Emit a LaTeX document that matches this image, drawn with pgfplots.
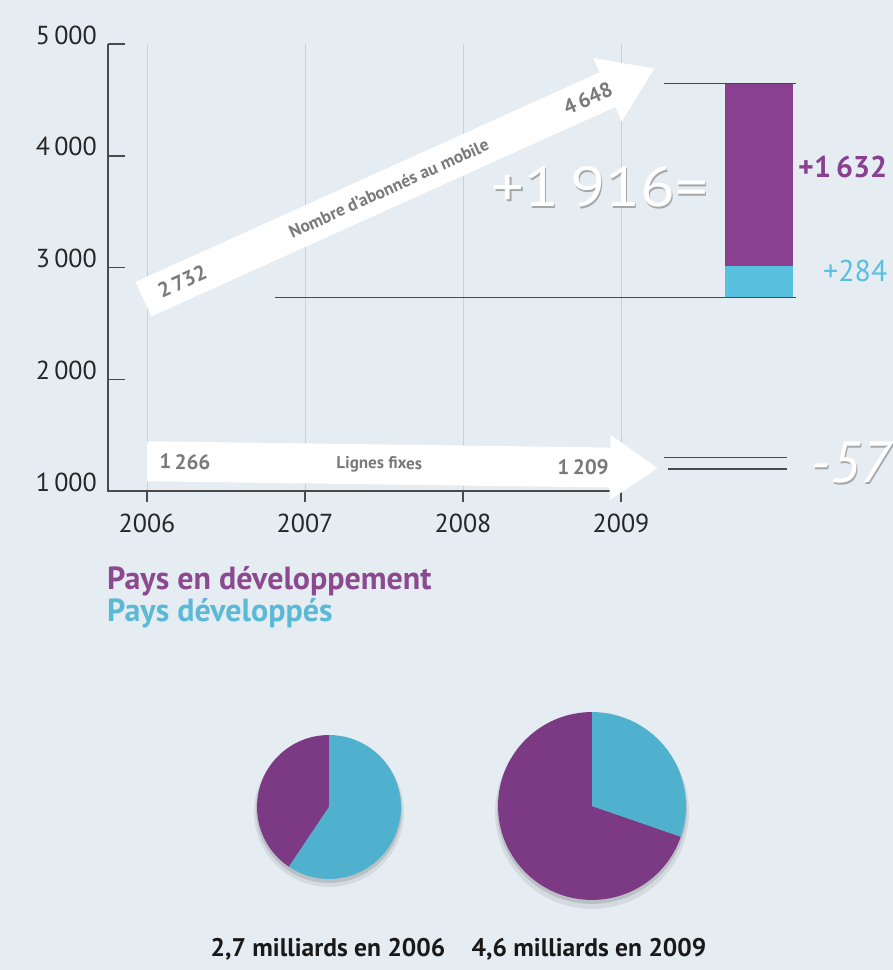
\documentclass[border=0pt]{standalone}
\usepackage{fontspec}
\setmainfont{PT Sans}
\usepackage{pgfplots}
\pgfplotsset{compat=1.18}
\usetikzlibrary{arrows.meta}

\definecolor{bg}{HTML}{E5ECF2}
\definecolor{purp}{HTML}{8A4090}
\definecolor{cyanb}{HTML}{58C0DF}
\definecolor{piepurp}{HTML}{7C3A84}
\definecolor{piecyan}{HTML}{4FB1CD}
\definecolor{legpurp}{HTML}{8B4A8F}
\definecolor{legcyan}{HTML}{5BB9D6}
\definecolor{axisgray}{HTML}{4A4A4A}
\definecolor{gridgray}{HTML}{CBD0D6}
\definecolor{lblgray}{HTML}{7A7A7A}
\definecolor{embossgray}{HTML}{A5A8AB}

% subscribers, millions
\def\mobA{2732}  \def\mobB{4648}
\def\fixA{1266}  \def\fixB{1209}
\def\incDev{1632} \def\incRich{284}
% pies: total (billions) and share of developing countries (%)
\def\totA{2.7} \def\devA{40.6}
\def\totB{4.6} \def\devB{69.7}

\pgfplotsset{chartgeom/.style={
  at={(108pt,479pt)}, anchor=south west,
  scale only axis, width=784.8pt, height=446.8pt,
  xmin=2005.753, xmax=2010.72, ymin=1000, ymax=5000}}

\begin{document}
\begin{tikzpicture}
\path[use as bounding box, fill=bg] (0,0) rectangle (893pt,970pt);

% stacked increase bar
\begin{axis}[chartgeom, hide axis, ybar stacked, bar width=68pt]
\addplot[fill=none, draw=none] coordinates {(2009.87,\mobA)};
\addplot[fill=cyanb, draw=none] coordinates {(2009.87,\incRich)};
\addplot[fill=purp, draw=none] coordinates {(2009.87,\incDev)};
\end{axis}

\begin{axis}[chartgeom,
  axis line style={draw=none},
  clip=false,
  xtick={2006,2007,2008,2009},
  xticklabels={2006,2007,2008,2009},
  ytick={1000,2000,3000,4000,5000},
  yticklabels={1\,000,2\,000,3\,000,4\,000,5\,000},
  xmajorgrids, major grid style={gridgray, line width=1pt},
  tick align=inside, major tick length=17pt,
  xtick style={draw=none},
  ytick style={axisgray, line width=1.5pt},
  ytick pos=left, xtick pos=bottom,
  xticklabel style={font=\fontsize{26}{26}\selectfont, text=black!85, inner sep=0pt, yshift=-23pt},
  yticklabel style={font=\fontsize{26}{26}\selectfont, text=black!85, inner sep=0pt, xshift=-11pt, yshift=9pt},
]
\draw[axisgray, line width=1.5pt] (axis cs:2005.753,5000) -- (axis cs:2005.753,1000) -- (axis cs:2009,1000);
\pgfplotsinvokeforeach{2006,2007,2008,2009}{
  \draw[axisgray, line width=1.2pt] (axis cs:#1,1000) -- ++(0pt,-11pt);
}

% mobile subscribers arrow
\addplot[draw=white, line width=38pt, -{Triangle[length=52pt, width=66pt]},
  shorten >=-37pt, shorten <=-4pt]
  coordinates {(2006,\mobA) (2009,\mobB)};
\node[rotate=24.3, text=lblgray, font=\bfseries\fontsize{21}{21}\selectfont] at (axis cs:2006.222,2873.8) {2\,732};
\node[rotate=24.3, text=lblgray, font=\bfseries\fontsize{17.5}{17.5}\selectfont] at (axis cs:2007.53,3709.2) {Nombre d’abonnés au mobile};
\node[rotate=24.3, text=lblgray, font=\bfseries\fontsize{21}{21}\selectfont] at (axis cs:2008.79,4513.9) {4\,648};

% fixed lines arrow
\addplot[draw=white, line width=40pt, -{Triangle[length=48pt, width=62pt]},
  shorten >=-37pt]
  coordinates {(2006,\fixA) (2009,\fixB)};
\node[rotate=-0.8, text=lblgray, font=\bfseries\fontsize{21}{21}\selectfont] at (axis cs:2006.24,1261.4) {1\,266};
\node[rotate=-0.8, text=lblgray, font=\bfseries\fontsize{17}{17}\selectfont] at (axis cs:2007.47,1238.1) {Lignes fixes};
\node[rotate=-0.8, text=lblgray, font=\bfseries\fontsize{21}{21}\selectfont] at (axis cs:2008.76,1213.6) {1\,209};

% reference lines
\draw[axisgray, line width=1.5pt] (axis cs:2009.27,\mobB) -- (axis cs:2010.11,\mobB);
\draw[axisgray, line width=1.5pt] (axis cs:2006.81,\mobA) -- (axis cs:2010.11,\mobA);
\draw[axisgray, line width=1.5pt] (axis cs:2009.27,1300) -- (axis cs:2010.05,1300);
\draw[axisgray, line width=1.5pt] (axis cs:2009.30,1195) -- (axis cs:2010.05,1195);
\end{axis}

% pies
\pgfmathsetmacro{\rA}{43.8*sqrt(\totA)}
\pgfmathsetmacro{\rB}{43.8*sqrt(\totB)}
\pgfmathsetmacro{\aA}{3.6*\devA}
\pgfmathsetmacro{\aB}{3.6*\devB}
\begin{axis}[at={(0pt,0pt)}, anchor=south west, scale only axis,
  width=893pt, height=970pt, xmin=0, xmax=893, ymin=0, ymax=970,
  hide axis, clip=false]
\fill[black, opacity=0.07] (axis cs:329,158) circle[radius=\rA pt+3pt];
\fill[black, opacity=0.12] (axis cs:329,160) circle[radius=\rA pt+1pt];
\fill[piepurp] (axis cs:329,163) -- ++(90:\rA pt) arc[start angle=90, delta angle=\aA, radius=\rA pt] -- cycle;
\fill[piecyan] (axis cs:329,163) -- ++(90+\aA:\rA pt) arc[start angle=90+\aA, end angle=450, radius=\rA pt] -- cycle;
\fill[black, opacity=0.07] (axis cs:592,158) circle[radius=\rB pt+3pt];
\fill[black, opacity=0.12] (axis cs:592,161) circle[radius=\rB pt+1pt];
\fill[piepurp] (axis cs:592,164) -- ++(90:\rB pt) arc[start angle=90, delta angle=\aB, radius=\rB pt] -- cycle;
\fill[piecyan] (axis cs:592,164) -- ++(90+\aB:\rB pt) arc[start angle=90+\aB, end angle=450, radius=\rB pt] -- cycle;
\end{axis}

% annotations (light text with a grey emboss shadow)
\node[xscale=1.15, text=embossgray, font=\fontsize{56}{56}\selectfont] at (601.2pt,781.5pt) {+1\,916=};
\node[xscale=1.15, text=white, font=\fontsize{56}{56}\selectfont] at (600pt,783pt) {+1\,916=};
\node[anchor=base west, inner sep=0pt, text=purp, font=\bfseries\fontsize{30}{30}\selectfont] at (798pt,792pt) {+1\,632};
\node[anchor=base west, inner sep=0pt, text=cyanb, font=\fontsize{30}{30}\selectfont] at (823pt,688pt) {+284};
\node[anchor=base west, inner sep=0pt, text=embossgray, font=\itshape\fontsize{58}{58}\selectfont] at (811.2pt,485.5pt) {-57};
\node[anchor=base west, inner sep=0pt, text=white, font=\itshape\fontsize{58}{58}\selectfont] at (810pt,487pt) {-57};

\node[anchor=base west, inner sep=0pt, text=legpurp, font=\bfseries\fontsize{32}{32}\selectfont] at (107pt,380pt) {Pays en développement};
\node[anchor=base west, inner sep=0pt, text=legcyan, font=\bfseries\fontsize{32}{32}\selectfont] at (107pt,348pt) {Pays développés};

\node[anchor=base, inner sep=0pt, text=black!90, font=\bfseries\fontsize{25.5}{25.5}\selectfont] at (328pt,13pt) {2,7 milliards en 2006};
\node[anchor=base, inner sep=0pt, text=black!90, font=\bfseries\fontsize{25.5}{25.5}\selectfont] at (589pt,13pt) {4,6 milliards en 2009};
\end{tikzpicture}
\end{document}
